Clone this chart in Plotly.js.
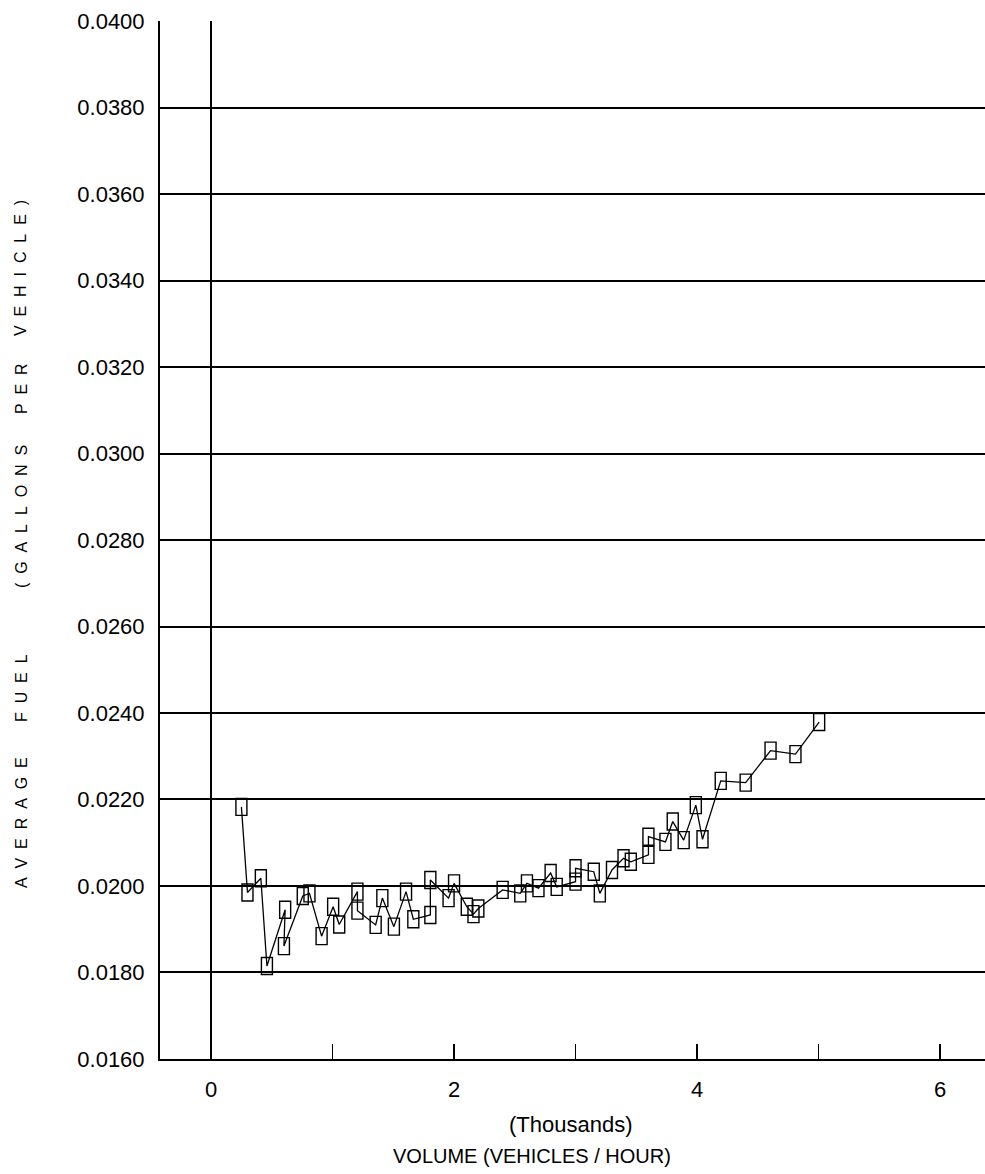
<!DOCTYPE html>
<html>
<head>
<meta charset="utf-8">
<script src="https://cdn.plot.ly/plotly-3.0.1.min.js"></script>
<style>
html,body{margin:0;padding:0;background:#fff;}
#chart{width:985px;height:1174px;}
</style>
</head>
<body>
<div id="chart"></div>
<script>
// Volume in thousands of vehicles per hour
var volume = [0.25, 0.30, 0.41, 0.46, 0.61, 0.60, 0.755, 0.81, 0.91, 1.005,
  1.055, 1.205, 1.205, 1.355, 1.41, 1.505, 1.605, 1.665, 1.805, 1.805,
  1.955, 2.00, 2.105, 2.16, 2.20, 2.40, 2.545, 2.60, 2.695, 2.795,
  2.845, 3.00, 3.00, 3.15, 3.20, 3.30, 3.395, 3.455, 3.60, 3.60,
  3.74, 3.80, 3.89, 3.99, 4.045, 4.195, 4.40, 4.605, 4.81, 5.005];
// Average fuel (gallons per vehicle)
var avgFuel = [0.02183, 0.01985, 0.02018, 0.01815, 0.01945, 0.01861, 0.01977, 0.01983, 0.01884, 0.01952,
  0.01911, 0.01987, 0.01943, 0.01910, 0.01972, 0.01906, 0.01987, 0.01923, 0.01933, 0.02014,
  0.01972, 0.02006, 0.01952, 0.01935, 0.01948, 0.01991, 0.01983, 0.02006, 0.01995, 0.02030,
  0.01998, 0.02010, 0.02041, 0.02033, 0.01983, 0.02037, 0.02064, 0.02056, 0.02072, 0.02114,
  0.02102, 0.02149, 0.02106, 0.02187, 0.02108, 0.02243, 0.02239, 0.02313, 0.02305, 0.02379];

var yTickVals = [0.016, 0.018, 0.020, 0.022, 0.024, 0.026, 0.028, 0.030, 0.032, 0.034, 0.036, 0.038, 0.040];
var yTickText = ["0.0160", "0.0180", "0.0200", "0.0220", "0.0240", "0.0260", "0.0280", "0.0300", "0.0320", "0.0340", "0.0360", "0.0380", "0.0400"];
var xTickVals = [0, 1, 2, 3, 4, 5, 6];
var xTickText = ["0", "", "2", "", "4", "", "6"];
var yTitleWords = ["AVERAGE", "FUEL", "(GALLONS", "PER", "VEHICLE)"];

var narrow = '"Liberation Sans Narrow", "Arial Narrow", "Liberation Sans", Arial, sans-serif';

function spaced(word) { return word.split('').join('\u00A0\u00A0'); }

var L = 160, R = 985, T = 21, B = 1059;
function px(x) { return (x - L) / (R - L); }
function py(y) { return (B - y) / (B - T); }

// vertical centres (pixels) of the spaced words of the y title
var yTitleCentres = [823, 688, 517, 389, 268];

// Tall open rectangle markers, anchored on each data point via the axes
var markerShapes = volume.map(function (v, i) {
  return {
    type: 'rect', layer: 'above',
    xref: 'x', yref: 'y',
    xsizemode: 'pixel', xanchor: v, x0: -5.5, x1: 5.5,
    ysizemode: 'pixel', yanchor: avgFuel[i], y0: -8.5, y1: 8.5,
    line: {color: '#000', width: 1.4},
    fillcolor: 'rgba(0,0,0,0)'
  };
});

var traces = [
  {
    x: volume, y: avgFuel, type: 'scatter', mode: 'lines',
    line: {color: '#000', width: 1.3},
    hoverinfo: 'skip', showlegend: false
  }
];

var annotations = [
  {
    xref: 'paper', yref: 'paper', x: px(571), y: py(1124),
    text: '(Thousands)', showarrow: false, xanchor: 'center', yanchor: 'middle',
    font: {family: narrow, size: 22, color: '#000'}
  },
  {
    xref: 'paper', yref: 'paper', x: px(532), y: py(1156),
    text: 'VOLUME (VEHICLES / HOUR)', showarrow: false, xanchor: 'center', yanchor: 'middle',
    font: {family: narrow, size: 20, color: '#000'}
  }
];
yTitleWords.forEach(function (w, i) {
  annotations.push({
    xref: 'paper', yref: 'paper', x: px(21), y: py(yTitleCentres[i]),
    text: spaced(w), showarrow: false, textangle: -90, xanchor: 'center', yanchor: 'middle',
    font: {family: '"Liberation Sans", Arial, sans-serif', size: 16, color: '#000'}
  });
});

var layout = {
  width: 985, height: 1174,
  margin: {l: L, r: 0, t: T, b: 1174 - B, pad: 0},
  paper_bgcolor: '#fff', plot_bgcolor: '#fff',
  showlegend: false,
  xaxis: {
    range: [-0.42, 6.37],
    tickmode: 'array', tickvals: xTickVals, ticktext: xTickText,
    ticks: 'inside', ticklen: 15, tickwidth: 1.3, tickcolor: '#000',
    showgrid: false,
    zeroline: true, zerolinecolor: '#000', zerolinewidth: 1.3,
    showline: true, linecolor: '#000', linewidth: 2,
    tickfont: {family: narrow, size: 22, color: '#000'},
    ticklabelstandoff: 10
  },
  yaxis: {
    range: [0.0159995, 0.0400005],
    tickmode: 'array', tickvals: yTickVals, ticktext: yTickText,
    ticks: '',
    showgrid: true, gridcolor: '#000', gridwidth: 2,
    zeroline: false,
    showline: true, linecolor: '#000', linewidth: 2,
    tickfont: {family: narrow, size: 22, color: '#000'},
    ticklabelstandoff: 9
  },
  shapes: markerShapes,
  annotations: annotations
};

Plotly.newPlot('chart', traces, layout, {displayModeBar: false, staticPlot: true});
</script>
</body>
</html>
